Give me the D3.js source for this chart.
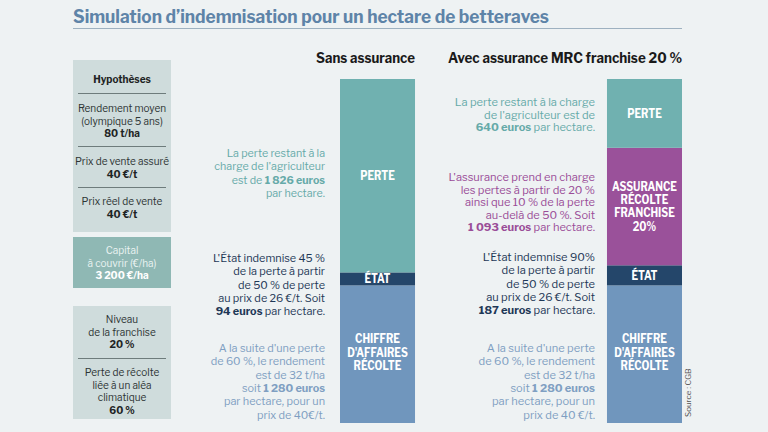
<!DOCTYPE html>
<html><head><meta charset="utf-8">
<script src="https://cdn.jsdelivr.net/npm/d3@7"></script>
<style>
html,body{margin:0;padding:0;background:#eef2f3;}
svg{display:block;}
text{font-family:"Libre Franklin","Roboto","Liberation Sans",sans-serif;}
</style></head>
<body>
<svg id="c" width="768" height="432"></svg>
<script>
// ---------- DATA ----------
const title = "Simulation d\u2019indemnisation pour un hectare de betteraves";
const scenarios = ["Sans assurance", "Avec assurance MRC franchise 20 %"];
const segmentKeys = ["ca", "etat", "assurance", "perte"]; // bottom -> top
const segmentLabels = {
  ca: ["CHIFFRE", "D'AFFAIRES", "R\u00c9COLTE"],
  etat: ["\u00c9TAT"],
  assurance: ["ASSURANCE", "R\u00c9COLTE", "FRANCHISE", "20%"],
  perte: ["PERTE"]
};
const sansValues = [1280, 94, 0, 1826];
const avecValues = [1280, 187, 1093, 640];
const capital = 3200;

const sansNotes = {
  perte: ["La perte restant \u00e0 la", "charge de l'agriculteur", "est de **1 826 euros**", "par hectare."],
  etat: ["L'\u00c9tat indemnise 45 %", "de la perte \u00e0 partir", "de 50 % de perte", "au prix de 26 \u20ac/t. Soit", "**94 euros** par hectare."],
  ca: ["A la suite d'une perte", "de 60 %, le rendement", "est de 32 t/ha", "soit **1 280 euros**", "par hectare, pour un", "prix de 40\u20ac/t."]
};
const avecNotes = {
  perte: ["La perte restant \u00e0 la charge", "de l'agriculteur est de", "**640 euros** par hectare."],
  assurance: ["L'assurance prend en charge", "les pertes \u00e0 partir de 20 %", "ainsi que 10 % de la perte", "au-del\u00e0 de 50 %. Soit", "**1 093 euros** par hectare."],
  etat: ["L'\u00c9tat indemnise 90%", "de la perte \u00e0 partir", "de 50 % de perte", "au prix de 26 \u20ac/t. Soit", "**187 euros** par hectare."],
  ca: ["A la suite d'une perte", "de 60 %, le rendement", "est de 32 t/ha", "soit **1 280 euros**", "par hectare, pour un", "prix de 40 \u20ac/t."]
};

const hypoBox1 = [
  {lines: ["**Hypoth\u00e8ses**"]},
  {lines: ["Rendement moyen", "(olympique 5 ans)", "**80 t/ha**"]},
  {lines: ["Prix de vente assur\u00e9", "**40 \u20ac/t**"]},
  {lines: ["Prix r\u00e9el de vente", "**40 \u20ac/t**"]}
];
const hypoBox2 = [{lines: ["Capital", "\u00e0 couvrir (\u20ac/ha)", "**3 200 \u20ac/ha**"]}];
const hypoBox3 = [
  {lines: ["Niveau", "de la franchise", "**20 %**"]},
  {lines: ["Perte de r\u00e9colte", "li\u00e9e \u00e0 un al\u00e9a", "climatique", "**60 %**"]}
];
const source = "Source : CGB";

// ---------- STYLE / LAYOUT ----------
const colors = {ca: "#7096bd", etat: "#24466a", assurance: "#9a519a", perte: "#70b1b0"};
const noteColors = {ca: "#7f9fc2", etat: "#1e3857", assurance: "#9a4d98", perte: "#66aaa9"};
const svg = d3.select("#c");

const y = d3.scaleLinear().domain([0, capital]).range([423, 79]);
const x = d3.scaleBand().domain(scenarios).range([340, 682]).paddingInner(0.719).paddingOuter(0);

svg.append("rect").attr("width", 768).attr("height", 432).attr("fill", "#eef2f3");

// title
svg.append("text").attr("x", 73).attr("y", 23)
  .attr("font-family", "'Liberation Sans Narrow','Roboto Condensed','Roboto',sans-serif")
  .attr("font-weight", 700).attr("font-size", 19).attr("fill", "#5e84a8")
  .attr("textLength", 476).attr("lengthAdjust", "spacingAndGlyphs")
  .text(title);
svg.append("line").attr("x1", 73).attr("x2", 682).attr("y1", 28.5).attr("y2", 28.5)
  .attr("stroke", "#9eb1c0").attr("stroke-width", 1);

function rich(sel, str) {
  const parts = str.split("**");
  parts.forEach((p, i) => {
    if (!p) return;
    sel.append("tspan").attr("font-weight", i % 2 ? 700 : 400).text(p);
  });
}
function block(g, lines, xx, y0, lh, anchor, color, size) {
  lines.forEach((l, i) => {
    const t = g.append("text").attr("x", xx).attr("y", y0 + i * lh)
      .attr("text-anchor", anchor).attr("fill", color).attr("font-size", size);
    rich(t, l);
  });
}

// headers
const headerWidths = [99, 234];
scenarios.forEach((s, i) => {
  svg.append("text").attr("x", x(s) + x.bandwidth()).attr("y", 63)
    .attr("text-anchor", "end").attr("font-weight", 700).attr("font-size", 14.5)
    .attr("textLength", headerWidths[i]).attr("lengthAdjust", "spacingAndGlyphs")
    .attr("fill", "#1a1a1a").text(s);
});

// bars
const minH = 13;
function stackSegs(values) {
  const segs = [];
  let base = y(0);
  const present = segmentKeys.map((k, i) => ({key: k, value: values[i]})).filter(d => d.value > 0);
  present.forEach((d, i) => {
    let top;
    if (i === present.length - 1) top = y(d3.sum(values));
    else top = base - Math.max(y(0) - y(d.value), minH);
    segs.push({key: d.key, value: d.value, y0: top, y1: base});
    base = top;
  });
  return segs;
}
const allValues = [sansValues, avecValues];
const stacks = scenarios.map((s, i) => ({scenario: s, segs: stackSegs(allValues[i])}));

stacks.forEach(st => {
  const g = svg.append("g");
  g.selectAll("rect").data(st.segs).join("rect")
    .attr("x", x(st.scenario)).attr("width", x.bandwidth())
    .attr("y", d => d.y0).attr("height", d => d.y1 - d.y0)
    .attr("fill", d => colors[d.key]);
  st.segs.forEach(d => {
    const lines = segmentLabels[d.key];
    const lh = 13.3;
    const cy = d.key === "ca" ? d.y0 + 67 : (d.y0 + d.y1) / 2;
    lines.forEach((l, i) => {
      const t = g.append("text").attr("x", x(st.scenario) + x.bandwidth() / 2)
        .attr("y", cy + (i - (lines.length - 1) / 2) * lh + 4.3)
        .attr("text-anchor", "middle").attr("font-weight", 700).attr("font-size", 11.8)
        .attr("fill", "#ffffff").text(l);
      const w = t.node().getComputedTextLength();
      t.attr("textLength", w * 0.86).attr("lengthAdjust", "spacingAndGlyphs");
    });
  });
});

// annotations
const notesG = svg.append("g");
const lhN = 13.3;
const sansX = 325, avecX = 595;
block(notesG, sansNotes.perte, sansX, 157, lhN, "end", noteColors.perte, 10.7);
block(notesG, sansNotes.etat, sansX, 262, lhN, "end", noteColors.etat, 10.9);
block(notesG, sansNotes.ca, sansX, 352, lhN, "end", noteColors.ca, 10.9);
block(notesG, avecNotes.perte, avecX, 106, 12.7, "end", noteColors.perte, 11.1);
block(notesG, avecNotes.assurance, avecX, 181, 12.6, "end", noteColors.assurance, 11.1);
block(notesG, avecNotes.etat, avecX, 261, lhN, "end", noteColors.etat, 11.1);
block(notesG, avecNotes.ca, avecX, 352, lhN, "end", noteColors.ca, 11.1);

// left hypotheses panel
const px = 73, pw = 98, pcx = px + pw / 2;
function panel(items, top, bottom, fill, textColor, boldColor, starts, dividers) {
  svg.append("rect").attr("x", px).attr("y", top).attr("width", pw).attr("height", bottom - top).attr("fill", fill);
  items.forEach((it, i) => {
    it.lines.forEach((l, j) => {
      const t = svg.append("text").attr("x", pcx).attr("y", starts[i] + j * 12.5)
        .attr("text-anchor", "middle").attr("font-size", 10).attr("fill", textColor);
      const parts = l.split("**");
      parts.forEach((p, k) => { if (p) t.append("tspan").attr("font-weight", k % 2 ? 700 : 400).attr("fill", k % 2 ? boldColor : textColor).text(p); });
    });
  });
  dividers.forEach(dy => {
    svg.append("line").attr("x1", px + 5).attr("x2", px + pw - 5).attr("y1", dy).attr("y2", dy)
      .attr("stroke", "#6e7c7c").attr("stroke-width", 1);
  });
}
panel(hypoBox1, 60, 232, "#cfdcdc", "#2e3535", "#1e2424", [83, 112, 165, 205], [93.5, 146.5, 187.5]);
panel(hypoBox2, 237, 288, "#8fb8b4", "#eaf3f2", "#ffffff", [254], []);
panel(hypoBox3, 306, 419, "#cfdcdc", "#2e3535", "#1e2424", [323, 376], [358.5]);

// source
svg.append("text").attr("transform", "translate(691,417) rotate(-90)")
  .attr("font-size", 8).attr("fill", "#555").text(source);
</script>
</body></html>
